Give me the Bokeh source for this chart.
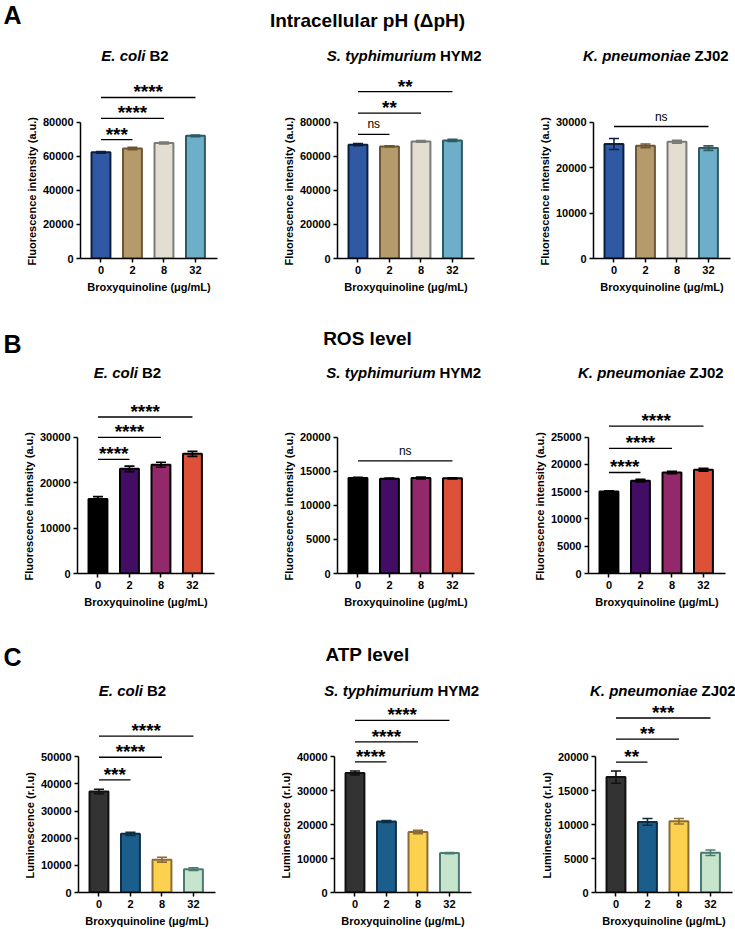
from bokeh.plotting import figure
from bokeh.layouts import column, row
from bokeh.models import Range1d, FixedTicker, NumeralTickFormatter, Title
from bokeh.core.properties import value
from bokeh.embed import file_html
from bokeh.resources import INLINE

# ---------------- data ----------------
doses = ["0", "2", "8", "32"]

# Intracellular pH (fluorescence, a.u.)
ph_ecoli_mean = [62300, 64600, 67800, 72000]
ph_ecoli_sd = [500, 700, 500, 500]
ph_styph_mean = [66800, 65800, 68700, 69300]
ph_styph_sd = [600, 400, 500, 600]
ph_kpn_mean = [25200, 24800, 25700, 24300]
ph_kpn_sd = [1200, 400, 300, 500]

# ROS level (fluorescence, a.u.)
ros_ecoli_mean = [16400, 23000, 23900, 26300]
ros_ecoli_sd = [500, 600, 550, 550]
ros_styph_mean = [14000, 13900, 14000, 13950]
ros_styph_sd = [100, 80, 150, 80]
ros_kpn_mean = [15000, 17000, 18500, 19000]
ros_kpn_sd = [150, 250, 200, 250]

# ATP level (luminescence, r.l.u)
atp_ecoli_mean = [37200, 21600, 12100, 8600]
atp_ecoli_sd = [800, 600, 900, 500]
atp_styph_mean = [35200, 20900, 17800, 11600]
atp_styph_sd = [600, 300, 500, 200]
atp_kpn_mean = [17000, 10400, 10500, 5850]
atp_kpn_sd = [900, 500, 400, 400]

# significance brackets against the 0 group: (compared dose index, label, bracket height)
ph_ecoli_sig = [(1, "***", 69800), (2, "****", 82200), (3, "****", 94500)]
ph_styph_sig = [(1, "ns", 72800), (2, "**", 85300), (3, "**", 98000)]
ph_kpn_sig = [(3, "ns", 29050)]
ros_ecoli_sig = [(1, "****", 25100), (2, "****", 29900), (3, "****", 34400)]
ros_styph_sig = [(3, "ns", 16500)]
ros_kpn_sig = [(1, "****", 18500), (2, "****", 22900), (3, "****", 27000)]
atp_ecoli_sig = [(1, "***", 41500), (2, "****", 49800), (3, "****", 57600)]
atp_styph_sig = [(1, "****", 38500), (2, "****", 44400), (3, "****", 50700)]
atp_kpn_sig = [(1, "**", 19200), (2, "**", 22600), (3, "***", 25700)]

# y axis extents (max, step)
ph_axes = [(80000, 20000), (80000, 20000), (30000, 10000)]
ros_axes = [(30000, 10000), (20000, 5000), (25000, 5000)]
atp_axes = [(50000, 10000), (40000, 10000), (20000, 5000)]

# ---------------- styles ----------------
FONT = "Liberation Sans"
ph_fill = ["#2F5AA3", "#B59B6C", "#E2DED1", "#6DAFC9"]
ph_line = ["#0D1E3F", "#6E5632", "#7B7B75", "#2E5B63"]
ros_fill = ["#000000", "#430D65", "#93296A", "#DE5139"]
ros_line = ["#000000", "#000000", "#000000", "#000000"]
atp_fill = ["#333333", "#1B5E8C", "#FBD14F", "#C7E4CC"]
atp_line = ["#111111", "#0E2E42", "#8B6D34", "#4A7B72"]

W = 735
FRAME_W = 137
X0, X1 = 0.35, 4.70
BAR_W = 0.6


def header(height, items):
    p = figure(width=W, height=height, x_range=Range1d(0, W), y_range=Range1d(height, 0),
               x_axis_location=None, y_axis_location=None, toolbar_location=None,
               output_backend="svg", min_border=0, outline_line_color=None)
    p.grid.visible = False
    for (x, y, txt, size, style, align) in items:
        p.text(x=[x], y=[y], text=[txt], text_font=value(FONT), text_font_size=size,
               text_font_style=style, text_align=align, text_baseline="middle",
               text_color="#000000")
    return p


def panel(mean, sd, fills, lines, axis, ylabel, sig, fig_left, fig_right, frame_left,
          frame_top, zero_px, fig_bottom, axis_top_px, ylabel_lift):
    ymax, ystep = axis
    frame_h = zero_px - frame_top
    yend = ymax * frame_h / (zero_px - axis_top_px)
    p = figure(width=fig_right - fig_left, height=fig_bottom - frame_top,
               x_range=Range1d(X0, X1), y_range=Range1d(0, yend),
               toolbar_location=None, output_backend="svg",
               min_border_left=frame_left - fig_left,
               min_border_right=fig_right - (frame_left + FRAME_W),
               min_border_top=0, min_border_bottom=fig_bottom - zero_px,
               outline_line_color=None)
    p.grid.visible = False
    xs = [1, 2, 3, 4]
    p.vbar(x=xs, top=mean, bottom=0, width=BAR_W, fill_color=fills, line_color=lines,
           line_width=2)
    lo = [m - s for m, s in zip(mean, sd)]
    hi = [m + s for m, s in zip(mean, sd)]
    cap = 0.16
    p.segment(x0=xs, y0=lo, x1=xs, y1=hi, line_color=lines, line_width=1.6)
    p.segment(x0=[x - cap for x in xs], y0=hi, x1=[x + cap for x in xs], y1=hi,
              line_color=lines, line_width=1.6)
    p.segment(x0=[x - cap for x in xs], y0=lo, x1=[x + cap for x in xs], y1=lo,
              line_color=lines, line_width=1.6)
    for (k, lab, h) in sig:
        p.segment(x0=[1], y0=[h], x1=[k + 1], y1=[h], line_color="#000000", line_width=1.3)
        if lab == "ns":
            p.text(x=[(k + 2) / 2], y=[h], text=[lab], text_font=value(FONT),
                   text_font_size="12px", text_align="center", text_baseline="bottom",
                   y_offset=-3, text_color="#000000")
        else:
            p.text(x=[(k + 2) / 2], y=[h], text=[lab], text_font=value(FONT),
                   text_font_size="19px", text_font_style="bold", text_align="center",
                   text_baseline="bottom", y_offset=5, text_color="#000000")

    for ax in (p.xaxis[0], p.yaxis[0]):
        ax.axis_line_width = 1.5
        ax.major_tick_line_width = 1.5
        ax.major_tick_out = 4
        ax.major_tick_in = 0
        ax.minor_tick_line_color = None
        ax.major_label_text_font = FONT
        ax.major_label_text_font_size = "11px"
        ax.major_label_text_font_style = "bold"
        ax.major_label_text_color = "#000000"
        ax.axis_label_text_font = FONT
        ax.axis_label_text_font_size = "11px"
        ax.axis_label_text_font_style = "bold"
        ax.axis_label_text_color = "#000000"
        ax.major_label_standoff = 3
        ax.axis_label_standoff = 4

    p.xaxis.ticker = FixedTicker(ticks=xs)
    p.xaxis.major_label_overrides = {x: d for x, d in zip(xs, doses)}
    p.xaxis.axis_label = "Broxyquinoline (μg/mL)"
    p.yaxis.ticker = FixedTicker(ticks=list(range(0, ymax + 1, ystep)))
    p.yaxis.formatter = NumeralTickFormatter(format="0")
    p.yaxis.bounds = (0, ymax)
    # vertical y title, anchored at its lower end relative to the axis origin
    p.add_layout(Title(text=ylabel, align="left", offset=ylabel_lift, standoff=3,
                       text_font=FONT, text_font_size="11px", text_font_style="bold",
                       text_color="#000000"), "left")
    return p


def panel_row(means, sds, sigs, axes, fills, lines, ylabel, frame_lefts, frame_top,
              zero_px, fig_bottom, axis_top_px, ylabel_lift):
    cuts = [0, 250, 505, W]
    figs = []
    for i in range(3):
        figs.append(panel(means[i], sds[i], fills, lines, axes[i], ylabel, sigs[i],
                          cuts[i], cuts[i + 1], frame_lefts[i], frame_top, zero_px,
                          fig_bottom, axis_top_px, ylabel_lift))
    return row(*figs, spacing=0)


def titles(y, parts):
    out = []
    for (italic, plain, split) in parts:
        out.append((split - 4, y, italic, "15px", "bold italic", "right"))
        out.append((split, y, plain, "15px", "bold", "left"))
    return out


# ---------------- section A: intracellular pH ----------------
head_a = header(68, [(3, 14, "A", "25px", "bold", "left"),
                     (367, 20, "Intracellular pH (ΔpH)", "19px", "bold", "center")]
                + titles(55, [("E. coli", "B2", 149), ("S. typhimurium", "HYM2", 439.5),
                              ("K. pneumoniae", "ZJ02", 694)]))
row_a = panel_row([ph_ecoli_mean, ph_styph_mean, ph_kpn_mean],
                  [ph_ecoli_sd, ph_styph_sd, ph_kpn_sd],
                  [ph_ecoli_sig, ph_styph_sig, ph_kpn_sig], ph_axes, ph_fill, ph_line,
                  "Fluorescence intensity (a.u.)", [80, 337, 593], 68, 258, 300, 121.7, -7)

# ---------------- section B: ROS level ----------------
head_b = header(85, [(3, 43, "B", "25px", "bold", "left"),
                     (367, 38, "ROS level", "19px", "bold", "center")]
                + titles(72, [("E. coli", "B2", 141.5), ("S. typhimurium", "HYM2", 439),
                              ("K. pneumoniae", "ZJ02", 689)]))
row_b = panel_row([ros_ecoli_mean, ros_styph_mean, ros_kpn_mean],
                  [ros_ecoli_sd, ros_styph_sd, ros_kpn_sd],
                  [ros_ecoli_sig, ros_styph_sig, ros_kpn_sig], ros_axes, ros_fill, ros_line,
                  "Fluorescence intensity (a.u.)", [77, 337, 588], 385, 573, 615, 436.5, -7)

# ---------------- section C: ATP level ----------------
head_c = header(87, [(3, 41, "C", "25px", "bold", "left"),
                     (367, 39, "ATP level", "19px", "bold", "center")]
                + titles(75, [("E. coli", "B2", 146.5), ("S. typhimurium", "HYM2", 437),
                              ("K. pneumoniae", "ZJ02", 701)]))
row_c = panel_row([atp_ecoli_mean, atp_styph_mean, atp_kpn_mean],
                  [atp_ecoli_sd, atp_styph_sd, atp_kpn_sd],
                  [atp_ecoli_sig, atp_styph_sig, atp_kpn_sig], atp_axes, atp_fill, atp_line,
                  "Luminescence (r.l.u)", [78, 334, 595], 702, 893, 929, 756.5, 14)

layout = column(head_a, row_a, head_b, row_b, head_c, row_c, spacing=0)

open("out.html", "w").write(file_html(layout, INLINE))
